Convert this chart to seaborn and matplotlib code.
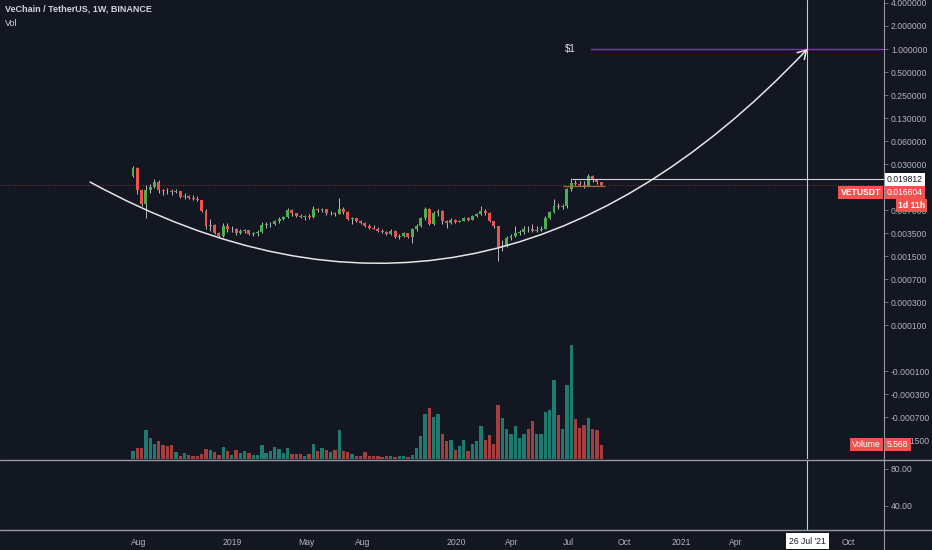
import numpy as np
import pandas as pd
import matplotlib
matplotlib.use("Agg")
import matplotlib.pyplot as plt
import matplotlib.dates as mdates
from matplotlib.path import Path
from matplotlib.patches import FancyArrowPatch
from matplotlib.lines import Line2D
from matplotlib.ticker import NullLocator
import seaborn as sns

# weekly VET/USDT candles (Binance), 23 Jul 2018 .. 24 Aug 2020
weeks = pd.date_range("2018-07-23", periods=110, freq="7D")
first_open = 0.0220
close = [0.0280, 0.0144, 0.0094, 0.0144, 0.0157, 0.0183, 0.0144, 0.0140, 0.0138, 0.0135,
         0.0138, 0.0116, 0.0120, 0.0113, 0.0110, 0.0106, 0.0076, 0.0048, 0.0050, 0.0039,
         0.0036, 0.0048, 0.0044, 0.0045, 0.0039, 0.0042, 0.0043, 0.0038, 0.0039, 0.0040,
         0.0050, 0.0051, 0.0052, 0.0056, 0.0060, 0.0064, 0.0079, 0.0071, 0.0066, 0.0064,
         0.0065, 0.0063, 0.0081, 0.0079, 0.0080, 0.0071, 0.0072, 0.0070, 0.0080, 0.0074,
         0.0060, 0.0061, 0.0056, 0.0053, 0.0049, 0.0046, 0.0045, 0.0042, 0.0041, 0.0038,
         0.0042, 0.0035, 0.0036, 0.0039, 0.0035, 0.0044, 0.0049, 0.0061, 0.0081, 0.0052,
         0.0072, 0.0076, 0.0056, 0.0053, 0.0058, 0.0055, 0.0057, 0.0061, 0.0059, 0.0065,
         0.0069, 0.0076, 0.0072, 0.0056, 0.0048, 0.0026, 0.0027, 0.0034, 0.0036, 0.0039,
         0.0040, 0.0045, 0.0044, 0.0042, 0.0043, 0.0045, 0.0062, 0.0074, 0.0089, 0.0086,
         0.0089, 0.0148, 0.0176, 0.0172, 0.0168, 0.0162, 0.0220, 0.0195, 0.0180, 0.0166]
high = [0.0300, 0.0285, 0.0148, 0.0167, 0.0173, 0.0201, 0.0195, 0.0150, 0.0153, 0.0148,
        0.0148, 0.0140, 0.0131, 0.0124, 0.0124, 0.0120, 0.0106, 0.0080, 0.0060, 0.0052,
        0.0041, 0.0053, 0.0053, 0.0048, 0.0046, 0.0044, 0.0045, 0.0043, 0.0041, 0.0043,
        0.0054, 0.0054, 0.0055, 0.0058, 0.0063, 0.0066, 0.0083, 0.0082, 0.0072, 0.0069,
        0.0068, 0.0070, 0.0089, 0.0084, 0.0083, 0.0080, 0.0076, 0.0075, 0.0113, 0.0086,
        0.0076, 0.0064, 0.0062, 0.0059, 0.0055, 0.0051, 0.0050, 0.0047, 0.0045, 0.0042,
        0.0044, 0.0043, 0.0038, 0.0040, 0.0039, 0.0046, 0.0052, 0.0063, 0.0086, 0.0083,
        0.0077, 0.0081, 0.0079, 0.0058, 0.0062, 0.0060, 0.0059, 0.0064, 0.0063, 0.0067,
        0.0071, 0.0089, 0.0080, 0.0074, 0.0057, 0.0049, 0.0032, 0.0036, 0.0038, 0.0048,
        0.0043, 0.0048, 0.0048, 0.0051, 0.0048, 0.0048, 0.0065, 0.0077, 0.0109, 0.0097,
        0.0095, 0.0153, 0.0207, 0.0195, 0.0190, 0.0189, 0.0234, 0.0225, 0.0199, 0.0183]
low = [0.0213, 0.0127, 0.0089, 0.0062, 0.0131, 0.0153, 0.0131, 0.0124, 0.0127, 0.0124,
       0.0131, 0.0113, 0.0109, 0.0109, 0.0106, 0.0103, 0.0074, 0.0044, 0.0042, 0.0038,
       0.0035, 0.0035, 0.0040, 0.0040, 0.0037, 0.0038, 0.0039, 0.0037, 0.0036, 0.0036,
       0.0039, 0.0046, 0.0047, 0.0050, 0.0053, 0.0058, 0.0061, 0.0066, 0.0063, 0.0061,
       0.0059, 0.0060, 0.0062, 0.0074, 0.0074, 0.0068, 0.0068, 0.0066, 0.0069, 0.0070,
       0.0058, 0.0051, 0.0054, 0.0051, 0.0047, 0.0044, 0.0044, 0.0041, 0.0039, 0.0037,
       0.0037, 0.0034, 0.0033, 0.0035, 0.0034, 0.0029, 0.0042, 0.0047, 0.0058, 0.0050,
       0.0050, 0.0066, 0.0052, 0.0046, 0.0052, 0.0053, 0.0054, 0.0056, 0.0057, 0.0058,
       0.0063, 0.0068, 0.0068, 0.0054, 0.0046, 0.0017, 0.0023, 0.0026, 0.0032, 0.0035,
       0.0037, 0.0038, 0.0041, 0.0040, 0.0041, 0.0042, 0.0044, 0.0060, 0.0071, 0.0081,
       0.0082, 0.0083, 0.0140, 0.0165, 0.0160, 0.0153, 0.0160, 0.0185, 0.0174, 0.0162]
# weekly volume, billions VET
volume = [2.96, 4.29, 4.17, 11.15, 8.19, 5.85, 7.02, 5.34, 5.07, 5.34,
          2.73, 1.29, 2.46, 1.56, 1.29, 1.05, 1.95, 4.02, 3.63, 2.85,
          1.56, 4.68, 3.24, 1.56, 3.63, 2.34, 3.12, 2.46, 1.56, 1.56,
          5.34, 2.34, 3.24, 4.68, 4.02, 2.34, 4.41, 2.07, 1.83, 2.07,
          1.29, 2.07, 5.73, 3.24, 4.17, 3.39, 2.73, 3.39, 11.43, 3.12,
          2.85, 1.95, 1.05, 1.05, 2.61, 1.29, 1.29, 0.98, 0.78, 1.05,
          1.29, 0.78, 1.05, 1.29, 0.78, 1.68, 4.29, 8.85, 17.55, 19.89,
          16.38, 17.67, 9.87, 7.14, 7.29, 3.63, 5.19, 7.41, 3.00, 5.97,
          6.90, 12.99, 7.53, 9.36, 5.97, 21.06, 16.11, 11.70, 9.75, 12.99,
          8.19, 9.87, 11.82, 14.70, 9.63, 9.75, 18.45, 19.23, 30.93, 17.04,
          11.70, 28.98, 44.58, 15.72, 11.97, 13.38, 15.99, 11.82, 11.19, 5.568]

last_price = 0.016604
level_price = 0.019812
target_price = 1.0
target_date = "2021-07-26"

# cup arc drawing: start, control, end (date, price)
arc_dates = ["2018-05-14", "2020-02-08", target_date]
arc_prices = [0.01825, 3.0e-5, target_price]

# right price scale labels (TradingView puts them at powers of two)
price_tick_steps = [-2, -1, 0, 1, 2, 3, 4, 5, 7, 8, 9, 10, 11, 12, 14, 15, 16, 17]
price_tick_labels = ["4.000000", "2.000000", "1.000000", "0.500000", "0.250000",
                     "0.130000", "0.060000", "0.030000", "0.007000", "0.003500",
                     "0.001500", "0.000700", "0.000300", "0.000100", "-0.000100",
                     "-0.000300", "-0.000700", "-0.001500"]
time_ticks = ["2018-08-01", "2019-01-01", "2019-05-01", "2019-08-01", "2020-01-01",
              "2020-04-01", "2020-07-01", "2020-10-01", "2021-01-01", "2021-04-01",
              "2021-10-01"]
time_labels = ["Aug", "2019", "May", "Aug", "2020", "Apr", "Jul", "Oct", "2021", "Apr", "Oct"]

BG = "#131722"
TXT = "#b2b5be"
UP, DOWN = "#4caf50", "#ef5350"
VUP, VDOWN = "#1f7a70", "#a53f3f"
FS = 6.2

sns.set_theme(style="dark", rc={"axes.facecolor": BG, "figure.facecolor": BG,
                                "axes.edgecolor": BG, "text.color": TXT,
                                "xtick.color": TXT, "ytick.color": TXT,
                                "patch.edgecolor": "none"})
plt.rcParams["font.family"] = ["Liberation Sans", "DejaVu Sans"]

W, H = 932, 550
fig = plt.figure(figsize=(W / 100, H / 100), dpi=100)

ax = fig.add_axes([0, (H - 459) / H, 884 / W, 459 / H])
lax = fig.add_axes([0, (H - 530) / H, 884 / W, 70 / H])

x = mdates.date2num(weeks)
o = np.array([first_open] + close[:-1])
c = np.array(close)
hi = np.maximum(np.array(high), np.maximum(o, c))
lo = np.minimum(np.array(low), np.minimum(o, c))
up = c >= o

x0 = mdates.date2num(pd.Timestamp("2019-01-01"))
ppd = 0.6137
xlim = (x0 - 232.4 / ppd, x0 + (884 - 232.4) / ppd)

ax.set_yscale("log")
ax.set_ylim(10 ** (-(459 - 49) / 76.5), 10 ** (49 / 76.5))
ax.set_xlim(*xlim)

# volume overlay
vax = ax.twinx()
vax.set_ylim(0, 459 * 0.39)
vax.bar(x, volume, width=5.4, color=np.where(up, VUP, VDOWN), linewidth=0, zorder=1)
vax.set_yticks([])
vax.set_xlim(*xlim)
for s in vax.spines.values():
    s.set_visible(False)

# candles
ax.vlines(x, lo, hi, color="#b8bbc4", lw=0.7, zorder=3)
body = np.maximum(np.abs(c - o), c * 0.012)
ax.bar(x, body, bottom=np.minimum(o, c), width=4.8, linewidth=0,
       color=np.where(up, UP, DOWN), zorder=4)

# levels
ax.axhline(last_price, color=DOWN, lw=0.6, ls=(0, (1, 2)), alpha=0.7, zorder=2)
ax.hlines(level_price, mdates.date2num(pd.Timestamp("2020-07-08")), xlim[1],
          color="#d1d4dc", lw=0.8, zorder=5)
ax.hlines(0.0162, mdates.date2num(pd.Timestamp("2020-06-22")),
          mdates.date2num(pd.Timestamp("2020-08-30")), color="#a8692e", lw=0.9, zorder=5)
sns.lineplot(x=[mdates.date2num(pd.Timestamp("2020-08-07")), xlim[1]],
             y=[target_price, target_price], ax=ax, color="#9c27b0", lw=1.0)
ax.text(mdates.date2num(pd.Timestamp("2020-07-04")), target_price, "$1",
        color="#e0e3eb", fontsize=7, ha="center", va="center")

# cup arc with arrow
arc_x = mdates.date2num(pd.to_datetime(arc_dates))
arc = Path(list(zip(arc_x, arc_prices)), [Path.MOVETO, Path.CURVE3, Path.CURVE3])
ax.add_patch(FancyArrowPatch(path=arc, arrowstyle="->,head_length=0.5,head_width=0.3",
                             mutation_scale=12, color="#e6e6e6", lw=1.1,
                             transform=ax.transData, zorder=6))

tx = mdates.date2num(pd.Timestamp(target_date))
for a in (ax, lax):
    a.axvline(tx, color="#c8cad0", lw=0.8, zorder=6)

# right price scale
ax.yaxis.tick_right()
ax.set_yticks([2.0 ** -k for k in price_tick_steps], price_tick_labels)
ax.yaxis.set_minor_locator(NullLocator())
ax.tick_params(axis="y", length=3, width=0.6, color="#787b86", labelsize=FS,
               labelcolor=TXT, pad=2)
ax.set_xticks([])
for s in ax.spines.values():
    s.set_visible(False)

box = dict(boxstyle="square,pad=0.25", ec="none")
ax.annotate("0.019812", xy=(1, level_price), xycoords=("axes fraction", "data"),
            xytext=(3, 0), textcoords="offset pixels", ha="left", va="center",
            fontsize=FS, color="#131722", bbox=dict(box, fc="#ffffff"),
            annotation_clip=False, zorder=10)
ax.annotate("0.016604", xy=(1, last_price), xycoords=("axes fraction", "data"),
            xytext=(3, -7), textcoords="offset pixels", ha="left", va="center",
            fontsize=FS, color="white", bbox=dict(box, fc=DOWN),
            annotation_clip=False, zorder=10)
ax.annotate("VETUSDT", xy=(1, last_price), xycoords=("axes fraction", "data"),
            xytext=(-3, -7), textcoords="offset pixels", ha="right", va="center",
            fontsize=FS, color="white", fontweight="bold", bbox=dict(box, fc=DOWN),
            annotation_clip=False, zorder=10)
ax.annotate("1d 11h", xy=(1, last_price), xycoords=("axes fraction", "data"),
            xytext=(14, -20), textcoords="offset pixels", ha="left", va="center",
            fontsize=FS, color="white", fontweight="bold", bbox=dict(box, fc=DOWN),
            annotation_clip=False, zorder=10)
vax.annotate("Volume", xy=(1, volume[-1]), xycoords=("axes fraction", "data"),
             xytext=(-3, 0), textcoords="offset pixels", ha="right", va="center",
             fontsize=FS, color="white", bbox=dict(box, fc=DOWN),
             annotation_clip=False, zorder=10)
vax.annotate(f"{volume[-1]:.3f}", xy=(1, volume[-1]), xycoords=("axes fraction", "data"),
             xytext=(3, 0), textcoords="offset pixels", ha="left", va="center",
             fontsize=FS, color="white", bbox=dict(box, fc=DOWN),
             annotation_clip=False, zorder=10)

# lower pane + time axis
lax.set_xlim(*xlim)
lax.set_ylim(14.05, 89.7)
lax.yaxis.tick_right()
lax.set_yticks([40, 80], ["40.00", "80.00"])
lax.set_xticks(mdates.date2num(pd.to_datetime(time_ticks)), time_labels)
lax.tick_params(axis="both", length=3, width=0.6, color="#787b86", labelsize=FS,
                labelcolor=TXT, pad=2)
lax.tick_params(axis="x", pad=3)
for s in lax.spines.values():
    s.set_visible(False)
lax.annotate("26 Jul '21", xy=(tx, 0), xycoords=("data", "axes fraction"),
             xytext=(0, -11), textcoords="offset pixels", ha="center", va="center",
             fontsize=FS, color="#131722", bbox=dict(boxstyle="square,pad=0.35",
                                                     fc="white", ec="none"),
             annotation_clip=False, zorder=10)

# pane separators
sep = "#9598a1"
for yy in (459.5, 530):
    fig.add_artist(Line2D([0, 1], [(H - yy) / H] * 2, color=sep, lw=1.0))
fig.add_artist(Line2D([884 / W] * 2, [0, 1], color=sep, lw=0.8))

fig.text(5 / W, 1 - 9 / H, "VeChain / TetherUS, 1W, BINANCE", fontsize=6.5,
         fontweight="bold", color="#d1d4dc", va="center")
fig.text(5 / W, 1 - 24 / H, "Vol", fontsize=6.5, color="#d1d4dc", va="center")

fig.savefig("out.png", dpi=100, facecolor=BG)
